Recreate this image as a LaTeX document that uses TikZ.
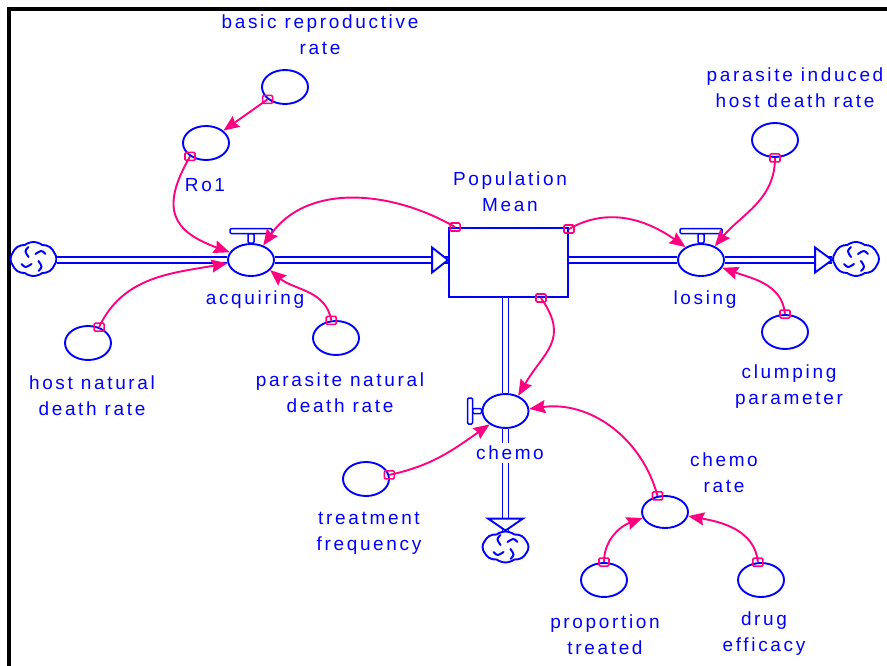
\documentclass[tikz,border=0pt]{standalone}
\usepackage{fontspec}
\setmainfont{Liberation Sans}[LetterSpace=14]
\usetikzlibrary{shapes.geometric,shapes.symbols,arrows.meta,calc}
\definecolor{sdblue}{RGB}{0,0,255}
\definecolor{sdpink}{RGB}{255,0,128}

\begin{document}
\begin{tikzpicture}[x=1pt,y=1pt,
  font=\fontsize{19}{26}\selectfont,
  lbl/.style={text=sdblue, align=center, inner sep=1pt},
  aux/.style={ellipse, draw=sdblue, line width=1.9pt, minimum width=46pt, minimum height=34pt, inner sep=0pt, fill=white},
  valve/.style={ellipse, draw=sdblue, line width=1.9pt, minimum width=46pt, minimum height=32pt, inner sep=0pt, fill=white},
  stock/.style={rectangle, draw=sdblue, line width=1.9pt, minimum width=119pt, minimum height=69pt, inner sep=0pt},
  sink/.style={cloud, cloud puffs=8, cloud puff arc=75, cloud ignores aspect, draw=sdblue, line width=1.9pt, minimum width=46pt, minimum height=34pt, inner sep=0pt, fill=white},
  pipe/.style={draw=sdblue, line width=1.5pt, double=white, double distance=4.2pt},
  tri/.style={draw=sdblue, line width=1.9pt, fill=white, line join=miter},
  handle/.style={draw=sdblue, line width=1.5pt, fill=white, rounded corners=1.2pt},
  conn/.style={draw=sdpink, line width=1.9pt, -{Stealth[length=16pt,width=13pt,inset=2pt]}},
  tap/.style={rectangle, draw=sdpink, line width=1.6pt, minimum width=10pt, minimum height=8pt, inner sep=0pt, rounded corners=1.2pt},
  swirl/.style={draw=sdblue, line width=2pt, line cap=round},
  swirlmark/.pic={\foreach \a in {0,90,180,270}{\draw[swirl,rotate=\a] (2,5) .. controls (8,9) .. (12,5);}}
]
\useasboundingbox (0,0) rectangle (887,-666);

% frame
\draw[line width=4pt, line join=miter] (9,-666) -- (9,-9) -- (887,-9);

% stock, flows and sources/sinks
\node[stock] (box) at (508.5,-262.5) {};
\node[valve] (acq) at (251,-260) {};
\node[valve] (los) at (701,-260) {};
\node[valve, minimum height=34pt] (chemo) at (505.5,-411) {};
\node[sink] (cloudL) at (33.5,-259) {};
\node[sink] (cloudR) at (856,-259) {};
\node[sink, minimum height=31pt] (cloudB) at (505.5,-547) {};
\path (cloudL.center) pic {swirlmark};
\path (cloudR.center) pic {swirlmark};
\path (cloudB.center) pic {swirlmark};

% auxiliaries
\node[aux] (brr) at (285,-87) {};
\node[aux] (ro1) at (206,-143) {};
\node[aux] (hnd) at (88,-343) {};
\node[aux] (pnd) at (336,-338) {};
\node[aux] (pih) at (775,-140) {};
\node[aux] (clp) at (785,-332) {};
\node[aux] (trf) at (366,-479) {};
\node[aux, minimum height=32pt] (chr) at (665,-512) {};
\node[aux] (prt) at (604,-580) {};
\node[aux] (dre) at (761,-580) {};

% pipes
\draw[pipe] (cloudL.east |- acq.west) -- (acq.west);
\draw[pipe] (acq.east) -- (acq.east -| box.west);
\draw[tri] (acq.east -| box.west) -- ++(-16,12.5) -- ++(0,-25) -- cycle;
\draw[pipe] (box.east |- los.west) -- (los.west);
\draw[pipe] (los.east) -- (los.east -| cloudR.west);
\draw[tri] (los.east -| cloudR.west) -- ++(-17,12.5) -- ++(0,-25) -- cycle;
\draw[pipe] (box.south -| chemo.north) -- (chemo.north);
\draw[pipe] (chemo.south) -- (chemo.south |- cloudB.north);
\draw[tri] (chemo.south |- cloudB.north) -- ++(-17.5,12) -- ++(35,0) -- cycle;

% valve handles
\draw[handle] ([xshift=-3pt]acq.north) rectangle ++(6,9.5);
\draw[handle] ([shift={(-21,9.5)}]acq.north) rectangle ++(42,5);
\draw[handle] ([xshift=-3pt]los.north) rectangle ++(6,9.5);
\draw[handle] ([shift={(-21,9.5)}]los.north) rectangle ++(42,5);
\draw[handle] ([shift={(-9,-2.5)}]chemo.west) rectangle ++(9,5);
\draw[handle] ([shift={(-14,-13)}]chemo.west) rectangle ++(5,26);

% labels
\node[lbl] (lbrr) at (320,-35) {basic reproductive\\rate};
\node[lbl] (lro1) at (205,-185) {Ro1};
\node[lbl] (lbox) at (510,-192) {Population\\Mean};
\node[lbl] (lacq) at (255,-300) {acquiring};
\node[lbl] (llos) at (705,-300) {losing};
\node[lbl] (lhnd) at (92,-396) {host natural\\death rate};
\node[lbl] (lpnd) at (340,-393) {parasite natural\\death rate};
\node[lbl] (lpih) at (795,-88) {parasite induced\\host death rate};
\node[lbl] (lclp) at (789,-387) {clumping\\parameter};
\node[lbl, fill=white, inner ysep=3pt] (lchemo) at (510,-453) {chemo};
\node[lbl] (ltrf) at (369,-533) {treatment\\frequency};
\node[lbl] (lchr) at (724,-473) {chemo\\rate};
\node[lbl] (lprt) at (605,-635) {proportion\\treated};
\node[lbl] (ldre) at (764,-634) {drug\\efficacy};

% information links
\draw[conn] (brr) -- node[tap,pos=0] (t1) {} (ro1);
\draw[conn] (ro1.220) to[out=240,in=160,looseness=1.5] node[tap,pos=0] (t2) {} (acq.160);
\draw[conn] (hnd.55) to[out=65,in=190] node[tap,pos=0] (t3) {} (acq.188);
\draw[conn] (pnd.105) to[out=100,in=-40] node[tap,pos=0] (t4) {} (acq.-28);
\draw[conn] ([xshift=7pt]box.north west) to[out=150,in=55] node[tap,pos=0] (t5) {} (acq.50);
\draw[conn] ([yshift=-2pt]box.north east) to[out=30,in=145] node[tap,pos=0] (t6) {} (los.140);
\draw[conn] ([xshift=-28pt]box.south east) to[out=-55,in=60,looseness=1.3] node[tap,pos=0] (t7) {} (chemo.50);
\draw[conn] (pih.south) to[out=-90,in=50] node[tap,pos=0] (t8) {} (los.45);
\draw[conn] (clp.north) to[out=95,in=-20] node[tap,pos=0] (t9) {} (los.-20);
\draw[conn] (trf.10) to[out=12,in=215] node[tap,pos=0] (t10) {} (chemo.220);
\draw[conn] (chr.115) to[out=105,in=8] node[tap,pos=0] (t11) {} (chemo.5);
\draw[conn] (prt.north) to[out=90,in=200] node[tap,pos=0] (t12) {} (chr.195);
\draw[conn] (dre.100) to[out=95,in=-10] node[tap,pos=0] (t13) {} (chr.-10);
\end{tikzpicture}
\end{document}
